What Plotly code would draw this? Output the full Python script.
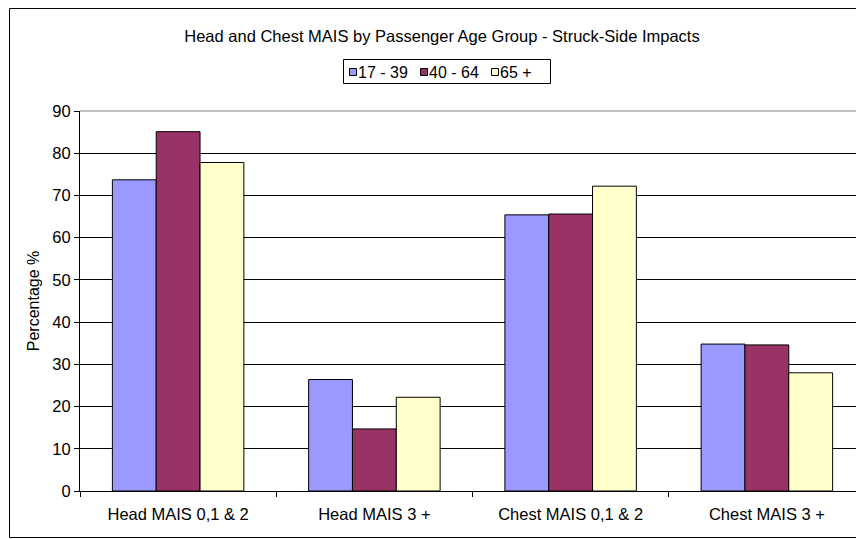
import plotly.graph_objects as go

categories = ["Head MAIS 0,1 & 2", "Head MAIS 3 +", "Chest MAIS 0,1 & 2", "Chest MAIS 3 +"]
age_17_39 = [73.7, 26.4, 65.4, 34.8]
age_40_64 = [85.1, 14.7, 65.6, 34.6]
age_65_plus = [77.8, 22.2, 72.2, 28.0]
series_names = ["17 - 39", "40 - 64", "65 +"]
series_colors = ["#9999FF", "#993366", "#FFFFCC"]
y_ticks = [0, 10, 20, 30, 40, 50, 60, 70, 80, 90]

# page body has an 8px default margin; lay out in screen pixels and convert
OFF = 8
W, H = 864, 539
L, T, B, R = 72, 103, 56, 7
pw = W - L - R
ph = H - T - B


def fx(sx):
    return (sx - OFF - L) / pw


def fy(sy):
    return (H - B - (sy - OFF)) / ph


fig = go.Figure()
for name, vals, col in zip(series_names, [age_17_39, age_40_64, age_65_plus], series_colors):
    fig.add_trace(go.Bar(x=categories, y=vals, name=name,
                         marker=dict(color=col, line=dict(color="#000000", width=1))))

font = "Liberation Sans, Arial, sans-serif"

shapes = [
    # outer chart border
    dict(type="rect", xref="paper", yref="paper",
         x0=fx(9.5), x1=fx(900), y0=fy(537.5), y1=fy(8.5),
         line=dict(color="#000000", width=1), fillcolor="rgba(0,0,0,0)", layer="below"),
    # plot-area top border (grey)
    dict(type="line", xref="paper", yref="paper", x0=0, x1=1, y0=1, y1=1,
         line=dict(color="#808080", width=1)),
    # legend box
    dict(type="rect", xref="paper", yref="paper",
         x0=fx(343.5), x1=fx(550.5), y0=fy(83.5), y1=fy(59.5),
         line=dict(color="#000000", width=1), fillcolor="white"),
]
annotations = []
swatch_x = [349, 420, 491]
text_x = [356, 427, 498]
for name, col, sx, tx in zip(series_names, series_colors, swatch_x, text_x):
    shapes.append(dict(type="rect", xref="paper", yref="paper",
                       x0=fx(sx + 0.5), x1=fx(sx + 7.5), y0=fy(75.5), y1=fy(68.5),
                       line=dict(color="#000000", width=1), fillcolor=col))
    annotations.append(dict(text=name, xref="paper", yref="paper", x=fx(tx), y=fy(72),
                            xanchor="left", yanchor="middle", showarrow=False,
                            font=dict(size=16, family=font, color="#000000")))

fig.update_layout(
    width=W, height=H,
    margin=dict(l=L, r=R, t=T, b=B, autoexpand=False),
    paper_bgcolor="white", plot_bgcolor="white",
    barmode="group", bargap=0.33, bargroupgap=0,
    font=dict(family=font, size=16, color="#000000"),
    title=dict(text="Head and Chest MAIS by Passenger Age Group - Struck-Side Impacts",
               x=fx(442), xanchor="center", xref="paper",
               y=1 - (36 - OFF) / H, yanchor="middle", yref="container",
               font=dict(size=16.5, family=font, color="#000000"), automargin=False),
    showlegend=False,
    xaxis=dict(type="category", showline=True, linecolor="#000000", linewidth=1,
               ticks="outside", ticklen=5, tickcolor="#000000", tickson="boundaries",
               showgrid=False, tickfont=dict(size=16.5), automargin=False,
               ticklabelstandoff=8),
    yaxis=dict(range=[0, 90], tickvals=y_ticks, showline=True, linecolor="#000000", linewidth=1,
               ticks="outside", ticklen=5, tickcolor="#000000",
               showgrid=True, gridcolor="#000000", gridwidth=1, zeroline=False,
               tickfont=dict(size=16.5), automargin=False,
               title=dict(text="Percentage %", font=dict(size=16), standoff=8)),
    shapes=shapes,
    annotations=annotations,
)

fig.write_html("out.html")
